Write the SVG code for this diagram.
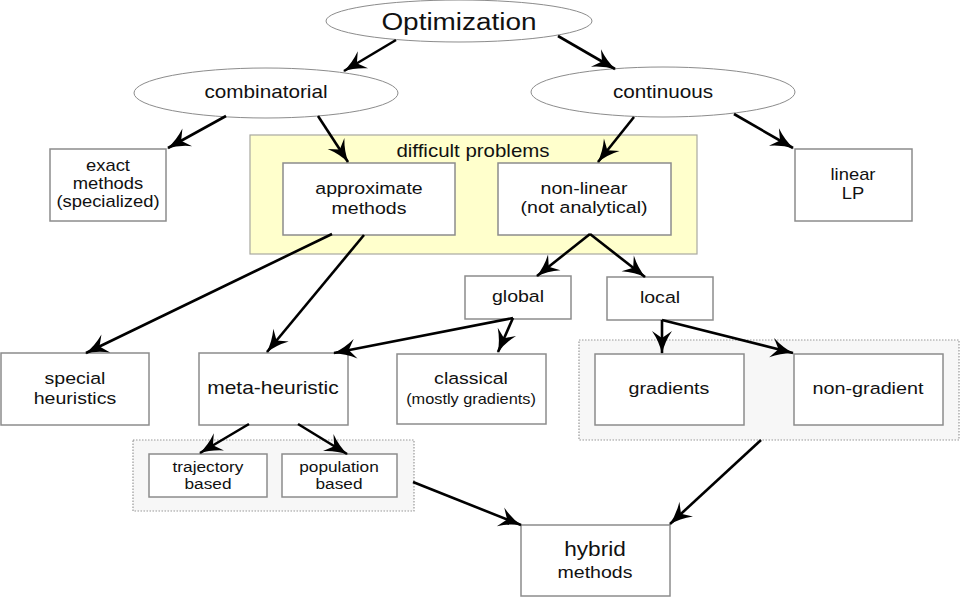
<svg xmlns="http://www.w3.org/2000/svg" width="960" height="597" viewBox="0 0 960 597">
<style>
.bg{fill:#fff}
.ell{fill:#fff;stroke:#8c8c8c;stroke-width:1}
.box{fill:#fff;stroke:#8c8c8c;stroke-width:1.5}
.diff{fill:#ffffcc;stroke:#a8a8a0;stroke-width:1.2}
.grp{fill:#f7f7f7;stroke:#999;stroke-width:1.2;stroke-dasharray:1.5 1.5}
text{font-family:"Liberation Sans",Arial,sans-serif;fill:#111;text-anchor:middle}
.conn line{stroke:#000;stroke-width:2.6;marker-end:url(#ah)}
</style>
<defs>
<marker id="ah" markerUnits="userSpaceOnUse" markerWidth="30" markerHeight="30" refX="0" refY="0" orient="auto" overflow="visible">
<path d="M1,0 Q-11,-2.5 -22,-10 L-15,0 L-22,10 Q-11,2.5 1,0 Z" fill="#000"/>
</marker>
</defs>
<rect class="bg" width="960" height="597"/>

<g id="difficult-problems">
<rect class="diff" x="250" y="135" width="447" height="119"/>
<text transform="translate(473 157) scale(1.15 1)" font-size="17.8">difficult problems</text>
</g>
<g id="metaheuristic-group">
<rect class="grp" x="133" y="440" width="281" height="71"/>
</g>
<g id="local-group">
<rect class="grp" x="579" y="340" width="380" height="100"/>
</g>

<g id="optimization">
<ellipse class="ell" cx="459" cy="21" rx="133" ry="21"/>
<text transform="translate(459 30) scale(1.15 1)" font-size="24.3">Optimization</text>
</g>
<g id="combinatorial">
<ellipse class="ell" cx="266" cy="93" rx="132" ry="25"/>
<text transform="translate(266 98) scale(1.15 1)" font-size="18">combinatorial</text>
</g>
<g id="continuous">
<ellipse class="ell" cx="663" cy="92" rx="132" ry="25"/>
<text transform="translate(663 98) scale(1.15 1)" font-size="18">continuous</text>
</g>
<g id="exact-methods">
<rect class="box" x="50" y="149" width="116" height="72"/>
<g font-size="16">
<text transform="translate(108 171) scale(1.15 1)">exact</text>
<text transform="translate(108 189) scale(1.15 1)">methods</text>
<text transform="translate(108 207) scale(1.15 1)">(specialized)</text>
</g>
</g>
<g id="approximate-methods">
<rect class="box" x="283" y="163" width="172" height="72"/>
<g font-size="17">
<text transform="translate(369 194) scale(1.15 1)">approximate</text>
<text transform="translate(369 214) scale(1.15 1)">methods</text>
</g>
</g>
<g id="non-linear">
<rect class="box" x="498" y="163" width="173" height="72"/>
<g font-size="17">
<text transform="translate(584 194) scale(1.15 1)">non-linear</text>
<text transform="translate(584 213) scale(1.15 1)">(not analytical)</text>
</g>
</g>
<g id="linear-lp">
<rect class="box" x="795" y="149" width="117" height="72"/>
<g font-size="16">
<text transform="translate(853 180) scale(1.15 1)">linear</text>
<text transform="translate(853 199) scale(1.15 1)">LP</text>
</g>
</g>
<g id="global">
<rect class="box" x="465" y="276" width="106" height="43"/>
<text transform="translate(518 302) scale(1.15 1)" font-size="17">global</text>
</g>
<g id="local">
<rect class="box" x="607" y="277" width="106" height="43"/>
<text transform="translate(660 303) scale(1.15 1)" font-size="17">local</text>
</g>
<g id="special-heuristics">
<rect class="box" x="1" y="353" width="148" height="72"/>
<g font-size="17">
<text transform="translate(75 384) scale(1.15 1)">special</text>
<text transform="translate(75 404) scale(1.15 1)">heuristics</text>
</g>
</g>
<g id="meta-heuristic">
<rect class="box" x="199" y="353" width="149" height="72"/>
<text transform="translate(273 394) scale(1.15 1)" font-size="18.2">meta-heuristic</text>
</g>
<g id="classical">
<rect class="box" x="397" y="354" width="149" height="70"/>
<text transform="translate(471 384) scale(1.15 1)" font-size="17">classical</text>
<text transform="translate(471 404) scale(1.15 1)" font-size="14.2">(mostly gradients)</text>
</g>
<g id="gradients">
<rect class="box" x="595" y="354" width="149" height="71"/>
<text transform="translate(669 394) scale(1.15 1)" font-size="17.1">gradients</text>
</g>
<g id="non-gradient">
<rect class="box" x="794" y="354" width="149" height="71"/>
<text transform="translate(868 394) scale(1.15 1)" font-size="17.2">non-gradient</text>
</g>
<g id="trajectory-based">
<rect class="box" x="149" y="454" width="118" height="43"/>
<g font-size="15">
<text transform="translate(208 472) scale(1.15 1)">trajectory</text>
<text transform="translate(208 489) scale(1.15 1)">based</text>
</g>
</g>
<g id="population-based">
<rect class="box" x="282" y="454" width="115" height="43"/>
<g font-size="15">
<text transform="translate(339 472) scale(1.15 1)">population</text>
<text transform="translate(339 489) scale(1.15 1)">based</text>
</g>
</g>
<g id="hybrid-methods">
<rect class="box" x="521" y="525" width="149" height="71"/>
<text transform="translate(595 556) scale(1.15 1)" font-size="19.7">hybrid</text>
<text transform="translate(595 578) scale(1.15 1)" font-size="17">methods</text>
</g>

<g id="connectors" class="conn">
<line x1="396" y1="40" x2="344" y2="71"/>
<line x1="558" y1="36" x2="615" y2="69"/>
<line x1="226" y1="116" x2="168" y2="148"/>
<line x1="318" y1="116" x2="348" y2="162"/>
<line x1="634" y1="117" x2="598" y2="162"/>
<line x1="734" y1="114" x2="793" y2="148"/>
<line x1="332" y1="234" x2="86" y2="353"/>
<line x1="364" y1="235" x2="267" y2="352"/>
<line x1="590" y1="234" x2="537" y2="276"/>
<line x1="590" y1="234" x2="645" y2="277"/>
<line x1="513" y1="318" x2="334" y2="353"/>
<line x1="513" y1="318" x2="498" y2="352"/>
<line x1="662" y1="320" x2="662" y2="353"/>
<line x1="662" y1="320" x2="793" y2="353"/>
<line x1="249" y1="424" x2="200" y2="453"/>
<line x1="298" y1="424" x2="347" y2="454"/>
<line x1="413" y1="482" x2="521" y2="525"/>
<line x1="761" y1="440" x2="670" y2="524"/>
</g>
</svg>
